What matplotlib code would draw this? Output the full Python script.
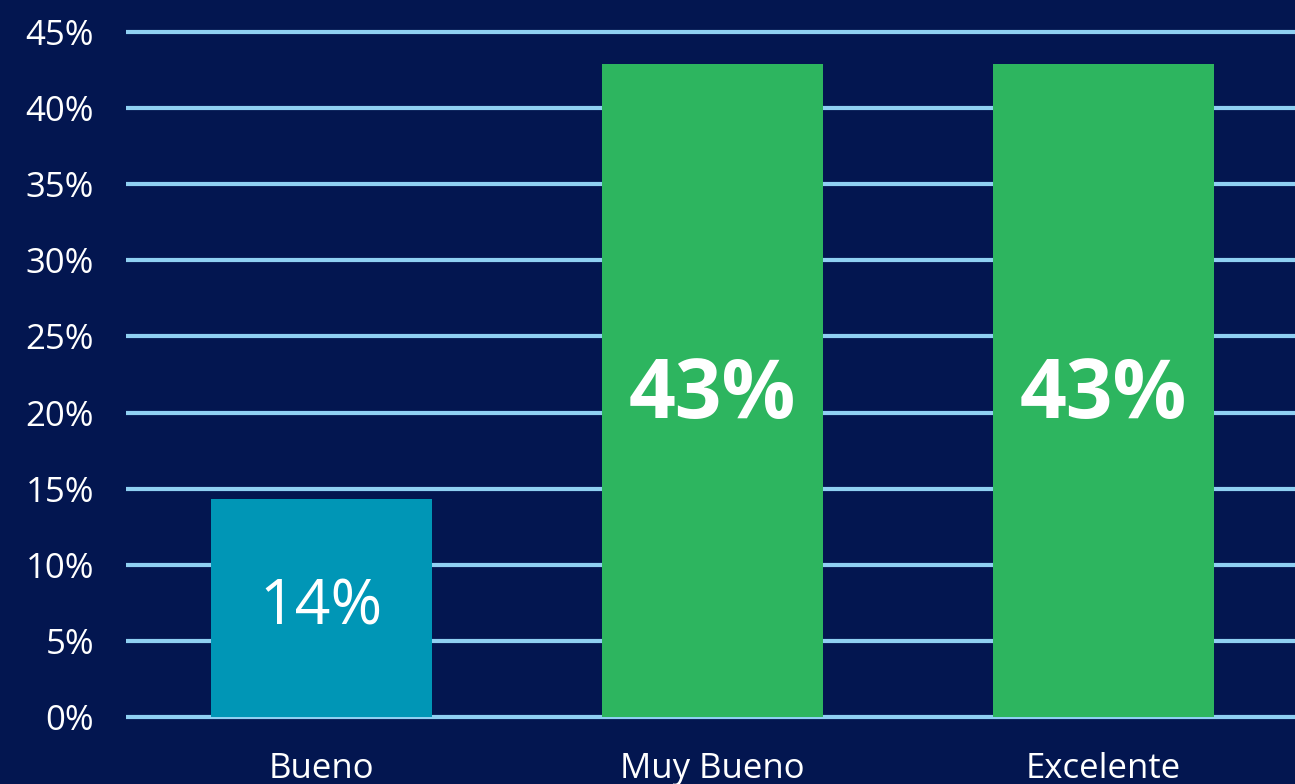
import numpy as np
import matplotlib
matplotlib.use("Agg")
import matplotlib.pyplot as plt

categories = ["Bueno", "Muy Bueno", "Excelente"]
values = [14.3, 42.9, 42.9]
labels = ["14%", "43%", "43%"]
bar_colors = ["#0096b6", "#2db55f", "#2db55f"]
yticks = [0, 5, 10, 15, 20, 25, 30, 35, 40, 45]

plt.rcParams['font.family'] = ['Open Sans', 'DejaVu Sans']

W, H = 1295, 784
fig = plt.figure(figsize=(W / 100, H / 100), dpi=100)
fig.patch.set_facecolor("#031650")

# axes placed so 0% sits at y=717px and 45% at y=32px
ax = fig.add_axes([126 / W, 51.8 / H, (W - 126) / W, 715.4 / H])
ax.set_facecolor("none")

x = np.arange(len(categories))
ax.bar(x, values, width=0.565, color=bar_colors, zorder=3)

for xi, v, lab in zip(x, values, labels):
    if v > 30:
        ax.text(xi, v / 2 - 0.4, lab, ha="center", va="center", color="white",
                fontsize=59, fontweight="bold", zorder=4)
    else:
        ax.text(xi, v / 2, lab, ha="center", va="center", color="white",
                fontsize=45, zorder=4)

for t in yticks:
    ax.axhline(t, color="#8fd0f2", lw=3, zorder=1)

ax.set_xlim(-0.5, 2.49)
ax.set_ylim(-1, 46)
ax.set_yticks(yticks)
ax.set_yticklabels([f"{t}%" for t in yticks])
ax.set_xticks(x)
ax.set_xticklabels(categories)
ax.tick_params(axis="y", length=0, pad=23, labelsize=25, labelcolor="white")
ax.tick_params(axis="x", length=0, pad=14, labelsize=25, labelcolor="white")
for s in ax.spines.values():
    s.set_visible(False)

fig.savefig("out.png", dpi=100, facecolor=fig.get_facecolor())
